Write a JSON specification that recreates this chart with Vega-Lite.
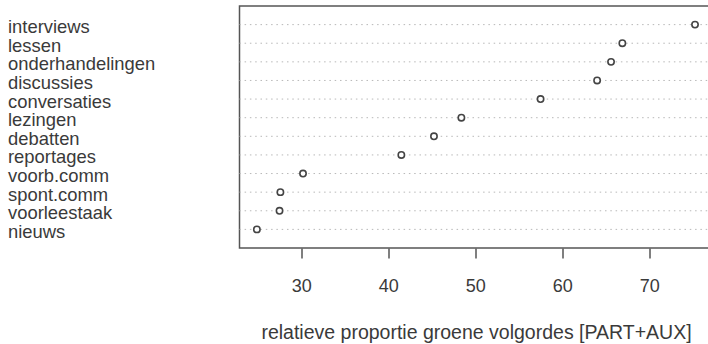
{
  "$schema": "https://vega.github.io/schema/vega-lite/v6.json",
  "autosize": "none",
  "padding": {"left": 239.5, "top": 6, "right": 0, "bottom": 96},
  "width": 473,
  "height": 242,
  "background": "white",
  "config": {
    "view": {"stroke": "#555", "strokeWidth": 1.5},
    "font": "Liberation Sans"
  },
  "data": {
    "values": [
      {"type": "interviews", "value": 75.25},
      {"type": "lessen", "value": 66.9},
      {"type": "onderhandelingen", "value": 65.6},
      {"type": "discussies", "value": 64.0},
      {"type": "conversaties", "value": 57.5},
      {"type": "lezingen", "value": 48.4},
      {"type": "debatten", "value": 45.25},
      {"type": "reportages", "value": 41.5},
      {"type": "voorb.comm", "value": 30.2},
      {"type": "spont.comm", "value": 27.6},
      {"type": "voorleestaak", "value": 27.5},
      {"type": "nieuws", "value": 24.9}
    ]
  },
  "encoding": {
    "y": {
      "field": "type",
      "type": "nominal",
      "sort": null,
      "scale": {"type": "point", "padding": 1},
      "axis": {
        "title": null,
        "ticks": false,
        "domain": false,
        "grid": false,
        "labelAlign": "left",
        "labelPadding": 232,
        "labelFontSize": 18.4,
        "labelColor": "#3a3a3a",
        "labelFont": "Liberation Sans",
        "labelBaseline": "middle",
        "labelOffset": 2
      }
    }
  },
  "layer": [
    {
      "mark": {"type": "rule", "color": "#b8b8b8", "strokeDash": [1.5, 3.8], "strokeWidth": 1},
      "encoding": {}
    },
    {
      "mark": {"type": "point", "shape": "circle", "size": 40, "filled": false, "fill": "white", "fillOpacity": 1, "stroke": "#444", "strokeWidth": 1.6, "opacity": 1},
      "encoding": {
        "x": {
          "field": "value",
          "type": "quantitative",
          "scale": {"domain": [22.9, 77.26], "nice": false, "zero": false},
          "axis": {
            "values": [30, 40, 50, 60, 70],
            "grid": false,
            "domain": false,
            "ticks": true,
            "tickSize": 10,
            "tickColor": "#555",
            "tickWidth": 1.5,
            "labelPadding": 19,
            "labelFontSize": 18,
            "labelColor": "#3a3a3a",
            "labelFont": "Liberation Sans",
            "title": "relatieve proportie groene volgordes [PART+AUX]",
            "titleFont": "Liberation Sans",
            "titleFontSize": 19.5,
            "titleFontWeight": "normal",
            "titleColor": "#3a3a3a",
            "titleY": 84,
            "titleBaseline": "middle"
          }
        }
      }
    }
  ]
}
